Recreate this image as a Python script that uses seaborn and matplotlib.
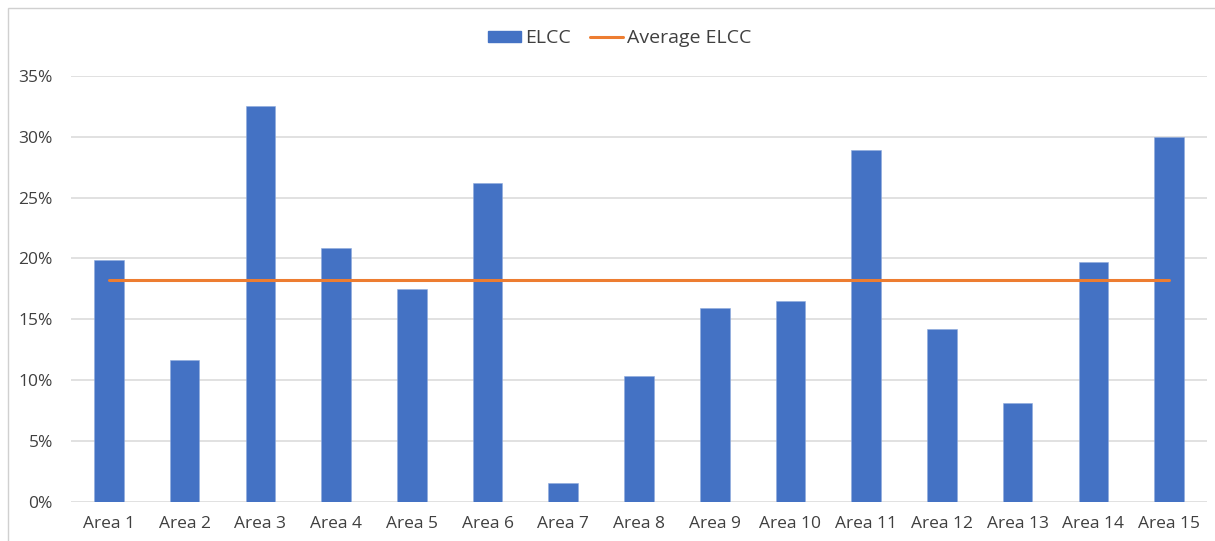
import numpy as np
import pandas as pd
import matplotlib
matplotlib.use("Agg")
import matplotlib.pyplot as plt
from matplotlib.patches import Patch, Rectangle
from matplotlib.lines import Line2D
from matplotlib.ticker import FuncFormatter, MultipleLocator
import seaborn as sns

# Effective load carrying capability by area (fraction of nameplate)
areas = [f"Area {i}" for i in range(1, 16)]
elcc = [0.1988, 0.1165, 0.3254, 0.2084, 0.1747, 0.2618, 0.0151, 0.1034,
        0.1596, 0.1650, 0.2892, 0.1418, 0.0809, 0.1971, 0.3002]
avg_elcc = float(np.mean(elcc))

bar_color = "#4472C4"
line_color = "#ED7D31"
text_color = "#404040"
grid_color = "#D9D9D9"

sns.set_theme(style="white")
plt.rcParams["font.family"] = ["Open Sans", "DejaVu Sans"]

df = pd.DataFrame({"area": areas, "elcc": elcc, "avg": [avg_elcc] * len(areas)})

fig = plt.figure(figsize=(12.15, 5.41), dpi=100)
ax = fig.add_axes([71 / 1215, 39.3 / 541, 1136 / 1215, 425.7 / 541])

sns.barplot(data=df, x="area", y="elcc", color=bar_color, width=0.39,
            saturation=1, edgecolor="#8FAADC", linewidth=0.4, ax=ax, zorder=2)
sns.lineplot(x=np.arange(len(areas)), y=df["avg"], color=line_color,
             linewidth=2.2, ax=ax, zorder=3)

ax.set_ylim(0, 0.35)
ax.set_xlim(-0.5, len(areas) - 0.5)
ax.yaxis.set_major_locator(MultipleLocator(0.05))
ax.yaxis.set_major_formatter(FuncFormatter(lambda v, _: f"{v * 100:.0f}%"))
ax.grid(axis="y", color=grid_color, linewidth=1.1, zorder=0)
ax.set_axisbelow(True)
for s in ax.spines.values():
    s.set_visible(False)
ax.set_xlabel("")
ax.set_ylabel("")
ax.tick_params(axis="both", length=0, labelsize=12.5, labelcolor=text_color)
ax.tick_params(axis="y", pad=13)
ax.tick_params(axis="x", pad=10)

handles = [Patch(facecolor=bar_color, edgecolor=bar_color),
           Line2D([0], [0], color=line_color, linewidth=2.2)]
fig.legend(handles, ["ELCC", "Average ELCC"], loc="center",
           bbox_to_anchor=(620 / 1215, 1 - 38 / 541), ncol=2, frameon=False,
           fontsize=14, labelcolor=text_color, handlelength=1.7,
           handleheight=0.5, columnspacing=1.0, handletextpad=0.2)

# Outer chart frame
fig.patches.append(Rectangle((8 / 1215, -0.02), 1.05, 1 - 8 / 541 + 0.02,
                             transform=fig.transFigure, fill=False,
                             edgecolor="#D0D0D0", linewidth=1.0))

fig.savefig("out.png", dpi=100, facecolor="white")
